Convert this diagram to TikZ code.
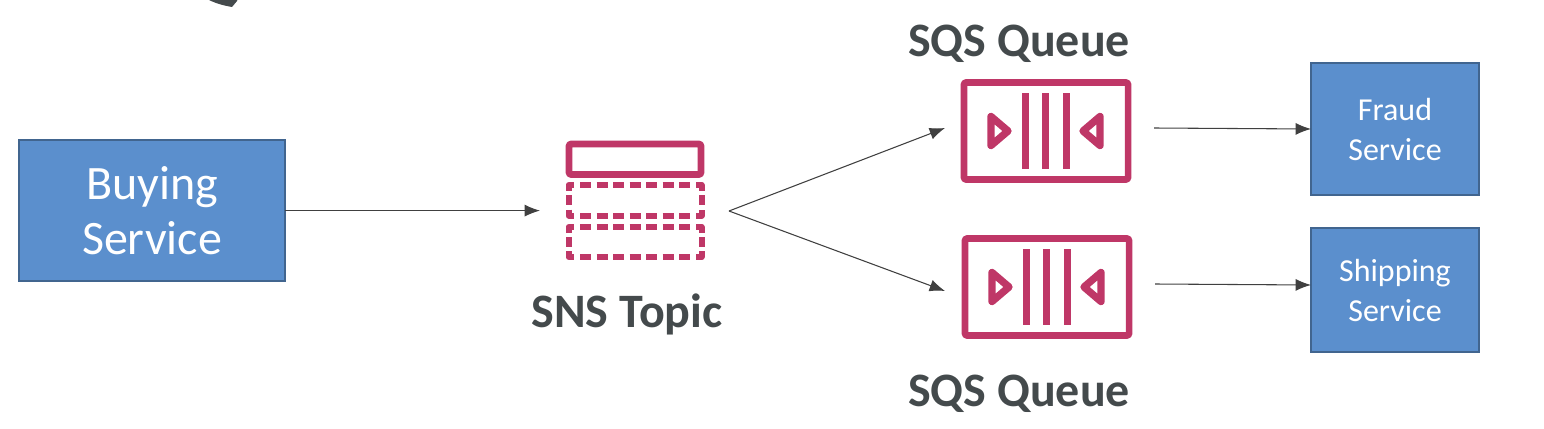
\documentclass[tikz,border=0pt]{standalone}
\usepackage{fontspec}
\setmainfont{Carlito}
\usetikzlibrary{arrows.meta}
\definecolor{boxfill}{HTML}{5B8FCD}
\definecolor{boxedge}{HTML}{41658F}
\definecolor{iconred}{HTML}{BF3767}
\definecolor{txt}{HTML}{444A4C}
\definecolor{linecol}{HTML}{404040}
\tikzset{
  x=0.75pt,y=-0.75pt,
  svcbox/.style={draw=boxedge,line width=1.5pt,fill=boxfill,text=white,align=center,inner sep=0pt,anchor=north west},
  bigtxt/.style={font=\fontsize{36}{41.5}\selectfont},
  smalltxt/.style={font=\fontsize{24}{30}\selectfont},
  capt/.style={text=txt,font=\fontsize{36}{38}\selectfont\bfseries,inner sep=0pt},
  conn/.style={draw=linecol,line width=0.8pt,-{Latex[length=11.5pt,width=9pt]}},
  iconline/.style={draw=iconred,line width=4.9pt,line join=round},
  triline/.style={draw=iconred,line width=5.5pt,line join=round},
  dashline/.style={draw=iconred,line width=4.5pt,dash pattern=on 8.25pt off 4.125pt},
  cornerline/.style={draw=iconred,line width=4.5pt,line join=round},
  bar/.style={draw=iconred,line width=5.4pt},
}
\newcommand{\dashrect}[4]{% x1 y1 x2 y2 (centre lines)
  \draw[cornerline] (#1,{#2+6}) -- (#1,#2) -- ({#1+5.5},#2);
  \draw[cornerline] ({#3-5.5},#2) -- (#3,#2) -- (#3,{#2+6});
  \draw[cornerline] (#1,{#4-6}) -- (#1,#4) -- ({#1+5.5},#4);
  \draw[cornerline] ({#3-5.5},#4) -- (#3,#4) -- (#3,{#4-6});
  \draw[dashline] ({#1+11.5},#2) -- ({#3-11.5},#2);
  \draw[dashline] ({#1+11.5},#4) -- ({#3-11.5},#4);
  \draw[cornerline] (#1,{(#2+#4)/2-5}) -- (#1,{(#2+#4)/2+5});
  \draw[cornerline] (#3,{(#2+#4)/2-5}) -- (#3,{(#2+#4)/2+5});
}
\newcommand{\queueicon}[2]{% x offset, y offset
  \begin{scope}[shift={(#1,#2)}]
    \draw[iconline,rounded corners=1pt] (964.5,82.5) rectangle (1128.5,179.5);
    \draw[bar] (1025.7,93) -- (1025.7,169);
    \draw[bar] (1046.3,93) -- (1046.3,169);
    \draw[bar] (1066.8,93) -- (1066.8,169);
    \draw[triline] (991.5,116.5) -- (1008.5,131) -- (991.5,145.5) -- cycle;
    \draw[triline] (1100.5,116.5) -- (1083.5,131) -- (1100.5,145.5) -- cycle;
  \end{scope}
}
\begin{document}
\begin{tikzpicture}
\useasboundingbox (0,0) rectangle (1544,428);
% fragment at the top edge
\begin{scope}
  \clip (0,0) rectangle (1544,428);
  \fill[txt] (208,-2) -- (209,0) .. controls (217,4) and (226,6) .. (232,7) -- (237,1) -- (238,-2) -- cycle;
\end{scope}
% service boxes
\node[svcbox,bigtxt,minimum width=199.5pt,minimum height=105.75pt] (buying) at (18,139) {Buying\\Service};
\node[svcbox,smalltxt,minimum width=126pt,minimum height=99pt] (fraud) at (1310,62) {Fraud\\Service};
\node[svcbox,smalltxt,minimum width=126pt,minimum height=93pt] (shipping) at (1310,227) {Shipping\\Service};
% SNS icon
\draw[iconline,rounded corners=1pt] (569,144) rectangle (701,174.5);
\dashrect{568.5}{185}{701.5}{215.5}
\dashrect{568.5}{227}{701.5}{257}
% SQS icons
\queueicon{-0.5}{0}
\queueicon{0.5}{156}
% captions
\node[capt] (q1) at (1019,44) {SQS Queue};
\node[capt] (topic) at (627,314) {SNS Topic};
\node[capt] (q2) at (1019,394) {SQS Queue};
% connector ends
\coordinate (snsin) at (540,210.6);
\coordinate (fork) at (729,211);
\coordinate (q1in) at (945,128);
\coordinate (q2in) at (945,291);
\coordinate (q1out) at (1154,128);
\coordinate (q2out) at (1155,284);
\coordinate (fraudin) at (1311,129);
\coordinate (shipin) at (1311,285);
\coordinate (buyout) at (285,210.6);
\draw[conn] (buyout) -- (snsin);
\draw[conn] (fork) -- (q1in);
\draw[conn] (fork) -- (q2in);
\draw[conn] (q1out) -- (fraudin);
\draw[conn] (q2out) -- (shipin);
\end{tikzpicture}
\end{document}
